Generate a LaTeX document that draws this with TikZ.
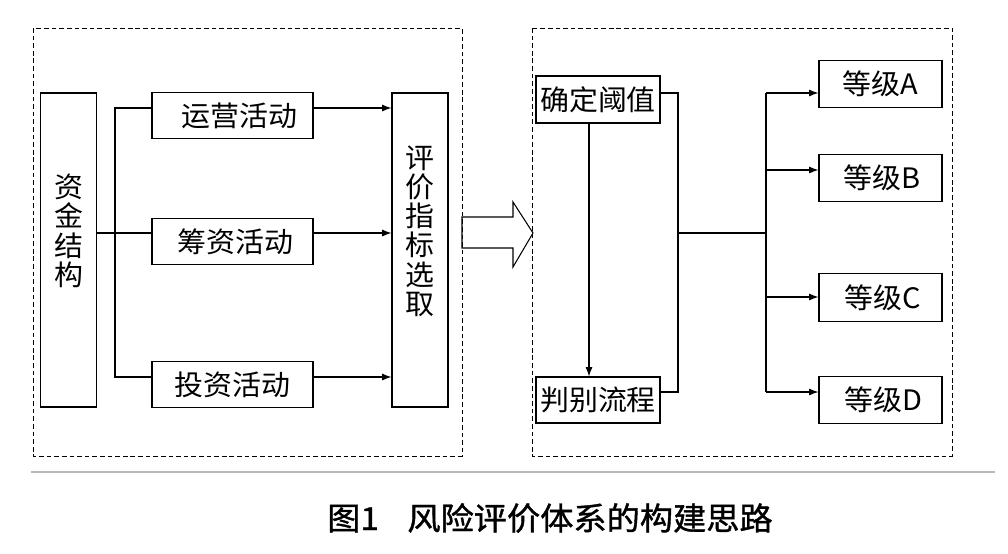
\documentclass[tikz,border=0pt]{standalone}
\usepackage{fontspec}
\usepackage{tikz}
\usetikzlibrary{arrows.meta}
\newfontfamily\cjk[FakeStretch=1.03]{Noto Sans CJK SC}
\newfontfamily\cjkcap[FakeStretch=1.05,FakeBold=1.2]{Noto Sans CJK SC}

\begin{document}
\begin{tikzpicture}[x=0.03cm,y=-0.03cm,
	box/.style={draw,line width=0.9pt,inner sep=0pt,font=\cjk\fontsize{24}{25}\selectfont},
	vbox/.style={box,minimum width=1.7cm,minimum height=9.42cm},
	vtext/.style={font=\cjk\fontsize{24}{25}\selectfont,align=center,yshift=0.57cm},
	hbox/.style={box,minimum width=4.83cm,minimum height=1.38cm},
	gbox/.style={box,minimum width=3.69cm,minimum height=1.42cm},
	frame/.style={line width=0.8pt,dash pattern=on 4pt off 2.5pt},
	arr/.style={-{Latex[length=8pt,width=6pt]},line width=0.9pt},
	ln/.style={line width=0.9pt}]
	\useasboundingbox (0,0) rectangle (1008,553);

	\draw[gray!55,line width=1.2pt] (31,472) -- (995,472);

	% left part
	\draw[frame] (33,28) rectangle (462,456);
	\node[vbox,label={[vtext]center:{资\\金\\结\\构}}] (zj) at (68.5,250) {};
	\node[hbox] (yy) at (232.5,115.5) {\hspace{0.4cm}运营活动};
	\node[hbox] (cz) at (232.5,241.5) {\hspace{0.2cm}筹资活动};
	\node[hbox] (tz) at (232.5,384.5) {投资活动};
	\node[vbox,minimum width=1.68cm,label={[vtext]center:{评\\价\\指\\标\\选\\取}}] (pj) at (420,250) {};

	\coordinate (b1) at (115,108);
	\coordinate (b2) at (115,233);
	\coordinate (b3) at (115,377);
	\draw[ln] (b1 -| yy.west) -- (b1) -- (b3) -- (b3 -| tz.west);
	\draw[ln] (b2 -| zj.east) -- (b2 -| cz.west);
	\draw[arr] (b1 -| yy.east) -- (b1 -| pj.west);
	\draw[arr] (b2 -| cz.east) -- (b2 -| pj.west);
	\draw[arr] (b3 -| tz.east) -- (b3 -| pj.west);

	% hollow arrow
	\draw[ln] (462,217) -- (513,217) -- (513,202) -- (533,233) -- (513,267) -- (513,248) -- (462,248) -- cycle;

	% right part
	\draw[frame] (532,28) rectangle (952,456);
	\node[box,minimum width=3.72cm,minimum height=1.41cm] (qd) at (598,99.5) {确定阈值};
	\node[box,minimum width=3.72cm,minimum height=1.38cm] (pb) at (598,400) {判别流程};
	\node[gbox] (dA) at (880.5,84) {等级A};
	\node[gbox] (dB) at (880.5,178) {\hspace{0.1cm}等级B};
	\node[gbox] (dC) at (880.5,297.5) {\hspace{0.15cm}等级C};
	\node[gbox] (dD) at (880.5,400) {\hspace{0.15cm}等级D};

	\draw[arr] ([xshift=-0.27cm]qd.south) -- ([xshift=-0.27cm]pb.north);

	\coordinate (r1) at (678,93);
	\coordinate (r2) at (678,392);
	\coordinate (m1) at (678,233);
	\coordinate (m2) at (766,233);
	\draw[ln] (r1 -| qd.east) -- (r1) -- (r2) -- (r2 -| pb.east);
	\draw[ln] (m1) -- (m2);
	\draw[ln] (766,93) -- (766,392);
	\draw[arr] (766,93) -- (766,93 -| dA.west);
	\draw[arr] (766,170) -- (766,170 -| dB.west);
	\draw[arr] (766,297) -- (766,297 -| dC.west);
	\draw[arr] (766,392) -- (766,392 -| dD.west);

	% caption
	\node[font=\cjkcap\fontsize{27}{30}\selectfont] (cap) at (550,518) {图1\hspace{0.9em}风险评价体系的构建思路};
\end{tikzpicture}
\end{document}
